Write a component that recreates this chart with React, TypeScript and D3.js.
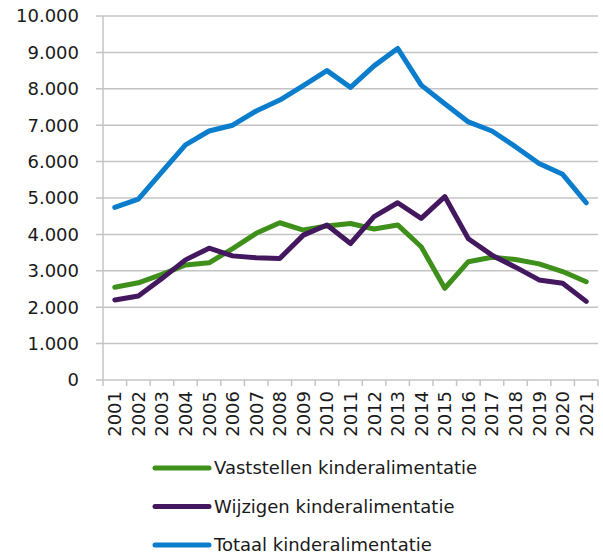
import React from "react";
import * as d3 from "d3";

const width = 603;
const height = 557;
const margin = { top: 16, right: 5, bottom: 177, left: 103 };

const years = [
  "2001", "2002", "2003", "2004", "2005", "2006", "2007", "2008", "2009", "2010", "2011",
  "2012", "2013", "2014", "2015", "2016", "2017", "2018", "2019", "2020", "2021",
];

const vaststellen = [
  2550, 2670, 2900, 3160, 3220, 3610, 4030, 4320, 4120, 4230, 4300,
  4150, 4260, 3660, 2520, 3250, 3370, 3310, 3190, 2980, 2700,
];
const wijzigen = [
  2200, 2310, 2790, 3300, 3620, 3410, 3360, 3340, 3980, 4260, 3750,
  4490, 4870, 4440, 5040, 3880, 3430, 3100, 2750, 2660, 2160,
];
const totaal = [
  4740, 4970, 5720, 6460, 6840, 7000, 7390, 7690, 8090, 8500, 8040,
  8630, 9110, 8100, 7590, 7090, 6840, 6410, 5950, 5650, 4870,
];

const yTicks = [0, 1000, 2000, 3000, 4000, 5000, 6000, 7000, 8000, 9000, 10000];

const series = [
  { name: "Vaststellen kinderalimentatie", values: vaststellen, color: "#3f8f1b" },
  { name: "Wijzigen kinderalimentatie", values: wijzigen, color: "#44185e" },
  { name: "Totaal kinderalimentatie", values: totaal, color: "#0a7dcc" },
];

const font = "'DejaVu Sans', Verdana, sans-serif";
const fs = 18;
const fmt = (d: number) => d3.format(",")(d).replace(/,/g, ".");

export default function App() {
  const x = d3
    .scaleBand<string>()
    .domain(years)
    .range([margin.left, width - margin.right]);
  const y = d3
    .scaleLinear()
    .domain([0, 10000])
    .range([height - margin.bottom, margin.top]);

  const line = d3
    .line<number>()
    .x((_, i) => (x(years[i]) as number) + x.bandwidth() / 2)
    .y((d) => y(d));

  const y0 = y(0);
  const ticksX = years.map((yr) => x(yr) as number).concat([x.range()[1]]);

  return (
    <svg
      width={width}
      height={height}
      style={{ position: "absolute", left: 0, top: 0, background: "#fff" }}
    >
      {/* grid */}
      {yTicks.map((t) => (
        <g key={t}>
          <line
            x1={margin.left - 7}
            x2={width - margin.right}
            y1={y(t)}
            y2={y(t)}
            stroke="#c4c4c4"
            strokeWidth={1.5}
          />
          <text
            x={79}
            y={y(t)}
            dy="0.36em"
            textAnchor="end"
            fontFamily={font}
            fontSize={fs}
            fill="#1a1a1a"
          >
            {fmt(t)}
          </text>
        </g>
      ))}
      <line
        x1={margin.left}
        x2={margin.left}
        y1={margin.top}
        y2={y0}
        stroke="#c4c4c4"
        strokeWidth={1.5}
      />
      {ticksX.map((tx, i) => (
        <line key={i} x1={tx} x2={tx} y1={y0} y2={y0 + 6} stroke="#c4c4c4" strokeWidth={1.5} />
      ))}
      {years.map((yr) => {
        const cx = (x(yr) as number) + x.bandwidth() / 2;
        return (
          <text
            key={yr}
            transform={`translate(${cx},${y0 + 11}) rotate(-90)`}
            dy="0.36em"
            textAnchor="end"
            fontFamily={font}
            fontSize={fs}
            fill="#1a1a1a"
          >
            {yr}
          </text>
        );
      })}

      {series.map((s) => (
        <path
          key={s.name}
          d={line(s.values) || ""}
          fill="none"
          stroke={s.color}
          strokeWidth={5}
          strokeLinejoin="round"
          strokeLinecap="round"
        />
      ))}

      {series.map((s, i) => {
        const ly = 468 + i * 38.5;
        return (
          <g key={s.name}>
            <line x1={155} x2={209} y1={ly} y2={ly} stroke={s.color} strokeWidth={5} strokeLinecap="round" />
            <text x={214} y={ly} dy="0.36em" fontFamily={font} fontSize={fs} fill="#1a1a1a">
              {s.name}
            </text>
          </g>
        );
      })}
    </svg>
  );
}
